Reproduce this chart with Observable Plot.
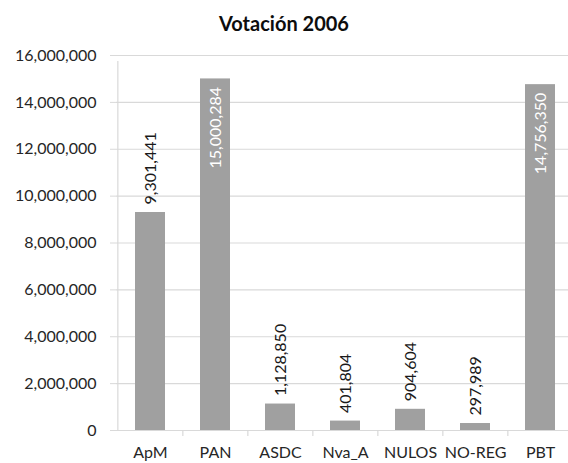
<!DOCTYPE html>
<html>
<head>
<meta charset="utf-8">
<script src="https://cdn.jsdelivr.net/npm/d3@7"></script>
<script src="https://cdn.jsdelivr.net/npm/@observablehq/plot@0.6"></script>
<style>
  html, body { margin: 0; padding: 0; background: #fff; }
  #wrap { width: 568px; height: 463px; overflow: hidden; position: relative; }
  #title { height: 45px; box-sizing: border-box; padding-top: 12px; text-align: center;
           font: 700 20px Lato, "Open Sans", sans-serif; line-height: 22px; color: #0d0d0d; }
</style>
</head>
<body>
<div id="wrap">
  <div id="title">Votación 2006</div>
  <div id="chart"></div>
</div>
<script>
const categories = ["ApM", "PAN", "ASDC", "Nva_A", "NULOS", "NO-REG", "PBT"];
const votes = [9301441, 15000284, 1128850, 401804, 904604, 297989, 14756350];
const yTicks = [0, 2000000, 4000000, 6000000, 8000000, 10000000, 12000000, 14000000, 16000000];

const data = categories.map((c, i) => ({cat: c, v: votes[i]}));
const fmt = d3.format(",");
const inside = d => d.v > 14000000;
const halfStep = (568 + 5 - 116) / categories.length / 2;

const chart = Plot.plot({
  width: 568,
  height: 418,
  marginTop: 10,
  marginBottom: 33,
  marginLeft: 116,
  marginRight: -5,
  style: {fontFamily: "Lato, 'Open Sans', sans-serif", fontSize: "16px", color: "#262626", background: "white", overflow: "visible"},
  x: {domain: categories, paddingInner: 0.54, paddingOuter: 0.27, label: null},
  y: {domain: [0, 16000000], label: null},
  marks: [
    Plot.ruleY(yTicks, {stroke: "#d9d9d9", strokeWidth: 1.2}),
    Plot.ruleX([categories[0]], {x: d => d, y1: 0, y2: 16000000, insetBottom: -6, dx: -halfStep, stroke: "#d9d9d9", strokeWidth: 1.2}),
    Plot.ruleX(categories.slice(1), {x: d => d, y1: 0, y2: 0, insetBottom: -6, dx: -halfStep, stroke: "#d9d9d9", strokeWidth: 1.2}),
    Plot.barY(data, {x: "cat", y: "v", fill: "#a0a0a0"}),
    Plot.text(data.filter(d => !inside(d)), {x: "cat", y: "v", text: d => fmt(d.v), rotate: -90, textAnchor: "start", dy: -8, fill: "#1a1a1a", fontSize: 16}),
    Plot.text(data.filter(inside), {x: "cat", y: "v", text: d => fmt(d.v), rotate: -90, textAnchor: "end", dy: 8, fill: "white", fontSize: 16}),
    Plot.axisY({ticks: yTicks, tickSize: 6, tickPadding: 14, stroke: "#d9d9d9", tickFormat: fmt, fill: "#262626", fontSize: 16, label: null}),
    Plot.axisX({tickSize: 0, tickPadding: 16, fill: "#262626", fontSize: 16, label: null})
  ]
});
document.getElementById("chart").appendChild(chart);
</script>
</body>
</html>
